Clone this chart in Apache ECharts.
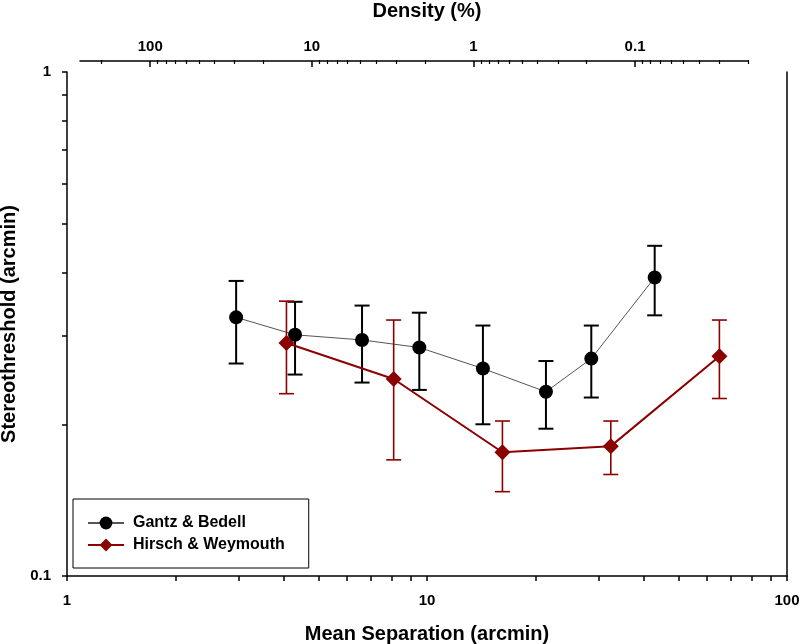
<!DOCTYPE html>
<html><head><meta charset="utf-8">
<script src="https://cdn.jsdelivr.net/npm/echarts@6/dist/echarts.min.js"></script>
<style>html,body{margin:0;padding:0;background:#fff}#c{width:800px;height:644px}</style>
</head><body><div id="c"></div>
<script>
// Gantz & Bedell
const gbSep  = [2.95, 4.30, 6.60, 9.52, 14.3, 21.4, 28.6, 42.9];
const gbThr  = [0.326, 0.301, 0.294, 0.284, 0.258, 0.232, 0.270, 0.391];
const gbLow  = [0.264, 0.251, 0.242, 0.234, 0.200, 0.196, 0.226, 0.329];
const gbHigh = [0.385, 0.350, 0.344, 0.333, 0.314, 0.267, 0.314, 0.452];
// Hirsch & Weymouth
const hwSep  = [4.07, 8.08, 16.2, 32.4, 64.9];
const hwThr  = [0.290, 0.246, 0.176, 0.181, 0.273];
const hwLow  = [0.230, 0.170, 0.147, 0.159, 0.225];
const hwHigh = [0.351, 0.322, 0.203, 0.203, 0.322];
// tick labels
const sepTicks  = [1, 10, 100];
const thrTicks  = [0.1, 1];
const densTicks = [100, 10, 1, 0.1];

function decadeTicks(lo, hi) {
  const out = [];
  for (let e = Math.floor(Math.log10(lo)); e <= Math.ceil(Math.log10(hi)); e++) {
    for (let m = 1; m <= 9; m++) {
      const v = +(m * Math.pow(10, e)).toPrecision(6);
      if (v >= lo * 0.9999 && v <= hi * 1.0001) out.push(v);
    }
  }
  return out;
}
const sepMinor = decadeTicks(1, 100);
const thrMinor = decadeTicks(0.1, 1);
const densMinor = decadeTicks(0.02, 272).filter(v => densTicks.indexOf(v) < 0);

const FONT = 'Liberation Sans, Arial, sans-serif';
const RED = '#8b0000';
const fmt = v => String(+(+v).toPrecision(4));

function errRender(color, width, cap) {
  return function (params, api) {
    const x = api.value(0), lo = api.value(1), hi = api.value(2);
    const a = api.coord([x, lo]), b = api.coord([x, hi]);
    const style = { stroke: color, lineWidth: width };
    return { type: 'group', children: [
      { type: 'line', shape: { x1: a[0], y1: a[1], x2: b[0], y2: b[1] }, style },
      { type: 'line', shape: { x1: a[0] - cap, y1: a[1], x2: a[0] + cap, y2: a[1] }, style },
      { type: 'line', shape: { x1: b[0] - cap, y1: b[1], x2: b[0] + cap, y2: b[1] }, style }
    ]};
  };
}

const axisLineStyle = { color: '#000', width: 1.5 };
const labelStyle = { color: '#000', fontFamily: FONT, fontWeight: 'bold', fontSize: 15 };
const nameStyle = { color: '#000', fontFamily: FONT, fontWeight: 'bold', fontSize: 20 };

const chart = echarts.init(document.getElementById('c'), null, { renderer: 'canvas' });
chart.setOption({
  animation: false,
  backgroundColor: '#fff',
  grid: [
    { left: 67, right: 13, top: 72, bottom: 68, containLabel: false, outerBoundsMode: 'none' },
    { left: 80, right: 52, top: 60, height: 1, containLabel: false, outerBoundsMode: 'none' }
  ],
  xAxis: [
    { gridIndex: 0, type: 'log', logBase: 10, min: 1, max: 100, position: 'bottom',
      axisLine: { show: true, lineStyle: axisLineStyle },
      axisTick: { show: true, inside: false, length: 5, customValues: sepMinor, lineStyle: axisLineStyle },
      axisLabel: Object.assign({ customValues: sepTicks, margin: 17, formatter: fmt }, labelStyle),
      splitLine: { show: false }, minorTick: { show: false },
      name: 'Mean Separation (arcmin)', nameLocation: 'middle', nameGap: 48, nameTextStyle: nameStyle },
    { gridIndex: 0, type: 'value', min: 0, max: 1, position: 'top', offset: 12,
      axisLine: { show: false }, axisTick: { show: false }, axisLabel: { show: false }, splitLine: { show: false },
      name: 'Density (%)', nameLocation: 'middle', nameGap: 39, nameTextStyle: nameStyle },
    { gridIndex: 1, type: 'log', logBase: 10, min: 0.02, max: 272, inverse: true, position: 'top',
      axisLine: { show: true, lineStyle: axisLineStyle },
      axisTick: { show: true, inside: true, length: 6, customValues: densTicks, lineStyle: axisLineStyle },
      axisLabel: Object.assign({ customValues: densTicks, margin: 6, formatter: fmt }, labelStyle),
      splitLine: { show: false } },
    { gridIndex: 1, type: 'log', logBase: 10, min: 0.02, max: 272, inverse: true, position: 'top',
      axisLine: { show: false },
      axisTick: { show: true, inside: true, length: 4, customValues: densMinor, lineStyle: { color: '#000', width: 1.2 } },
      axisLabel: { show: false }, splitLine: { show: false } }
  ],
  yAxis: [
    { gridIndex: 0, type: 'log', logBase: 10, min: 0.1, max: 1, position: 'left',
      axisLine: { show: true, lineStyle: axisLineStyle },
      axisTick: { show: true, inside: false, length: 5, customValues: thrMinor, lineStyle: axisLineStyle },
      axisLabel: Object.assign({ customValues: thrTicks, margin: 16, formatter: fmt }, labelStyle),
      splitLine: { show: false },
      name: 'Stereothreshold (arcmin)', nameLocation: 'middle', nameGap: 47, nameTextStyle: nameStyle },
    { gridIndex: 0, type: 'value', min: 0, max: 1, position: 'right',
      axisLine: { show: true, lineStyle: axisLineStyle }, axisTick: { show: false },
      axisLabel: { show: false }, splitLine: { show: false } },
    { gridIndex: 1, type: 'value', show: false }
  ],
  legend: {
    data: ['Gantz & Bedell', 'Hirsch & Weymouth'],
    orient: 'vertical', left: 73, top: 499,
    padding: [16, 24, 15, 14], itemGap: 6, itemWidth: 36, itemHeight: 16,
    borderColor: '#000', borderWidth: 1, backgroundColor: '#fff',
    selectedMode: false,
    textStyle: { color: '#000', fontFamily: FONT, fontWeight: 'bold', fontSize: 16, padding: [0, 0, 0, 4] }
  },
  series: [
    { name: 'gb-err', type: 'custom', xAxisIndex: 0, yAxisIndex: 0,
      renderItem: errRender('#000', 2, 7.5), encode: { x: 0, y: [1, 2] },
      data: gbSep.map((x, i) => [x, gbLow[i], gbHigh[i]]), z: 2 },
    { name: 'Gantz & Bedell', type: 'line', xAxisIndex: 0, yAxisIndex: 0,
      data: gbSep.map((x, i) => [x, gbThr[i]]),
      symbol: 'circle', symbolSize: 14, showSymbol: true,
      lineStyle: { color: '#555', width: 1 }, itemStyle: { color: '#000' }, z: 3 },
    { name: 'hw-err', type: 'custom', xAxisIndex: 0, yAxisIndex: 0,
      renderItem: errRender(RED, 1.6, 7.5), encode: { x: 0, y: [1, 2] },
      data: hwSep.map((x, i) => [x, hwLow[i], hwHigh[i]]), z: 4 },
    { name: 'Hirsch & Weymouth', type: 'line', xAxisIndex: 0, yAxisIndex: 0,
      data: hwSep.map((x, i) => [x, hwThr[i]]),
      symbol: 'diamond', symbolSize: 16, showSymbol: true,
      lineStyle: { color: RED, width: 2 }, itemStyle: { color: RED }, z: 5 }
  ]
});
</script>
</body></html>
